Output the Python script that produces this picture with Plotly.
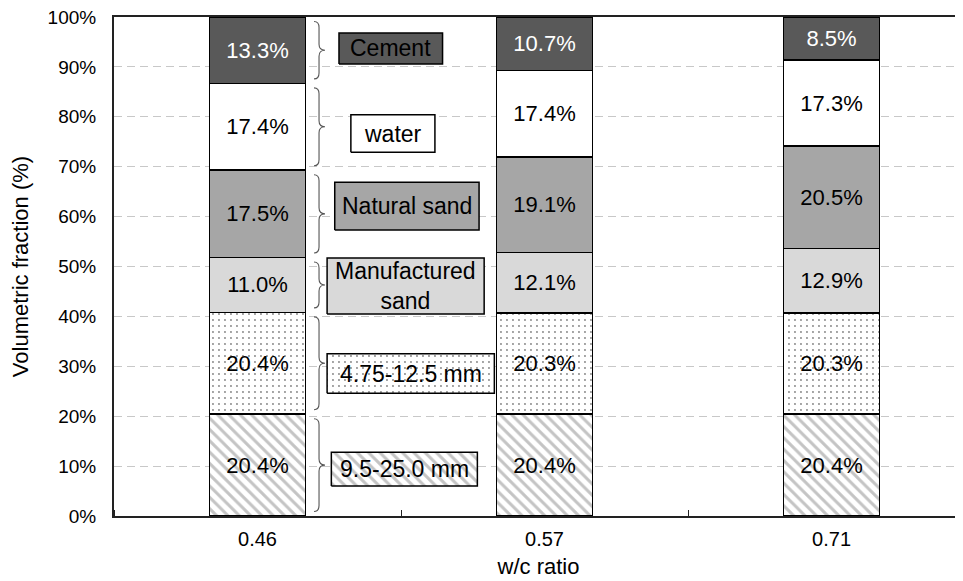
import plotly.graph_objects as go

# data (volumetric fraction, %)
wc_ratio = ["0.46", "0.57", "0.71"]
coarse_95_250 = [20.4, 20.4, 20.4]
coarse_475_125 = [20.4, 20.3, 20.3]
manufactured_sand = [11.0, 12.1, 12.9]
natural_sand = [17.5, 19.1, 20.5]
water = [17.4, 17.4, 17.3]
cement = [13.3, 10.7, 8.5]

series_names = ["9.5-25.0 mm", "4.75-12.5 mm", "Manufactured<br>sand", "Natural sand", "water", "Cement"]
series_values = [coarse_95_250, coarse_475_125, manufactured_sand, natural_sand, water, cement]

y_ticks = list(range(0, 101, 10))
y_ticktext = [f"{v}%" for v in y_ticks]

FONT = "Liberation Sans, Arial, sans-serif"
X_RANGE = [-0.5, 2.458]

# styles per series (bottom -> top)
styles = [
    dict(color="white", pattern=dict(shape="\\", fgcolor="#c4c4c4", bgcolor="white", size=8, solidity=0.38), text="black"),
    dict(color="white", pattern=dict(shape=".", fgcolor="#858585", bgcolor="white", size=6, solidity=0.08), text="black"),
    dict(color="#d9d9d9", pattern=None, text="black"),
    dict(color="#a6a6a6", pattern=None, text="black"),
    dict(color="white", pattern=None, text="black"),
    dict(color="#595959", pattern=None, text="white"),
]

# label boxes in plot-area fractions (x0, x1, y0, y1), bottom -> top
boxes = [
    (0.256, 0.428, 0.060, 0.128),
    (0.251, 0.448, 0.246, 0.325),
    (0.251, 0.436, 0.405, 0.517),
    (0.260, 0.430, 0.573, 0.669),
    (0.279, 0.378, 0.729, 0.804),
    (0.265, 0.387, 0.906, 0.968),
]


def fx(f):
    return X_RANGE[0] + f * (X_RANGE[1] - X_RANGE[0])


xpos = list(range(len(wc_ratio)))

fig = go.Figure()

for name, vals, st in zip(series_names, series_values, styles):
    marker = dict(color=st["color"], line=dict(color="black", width=1.5))
    if st["pattern"]:
        marker["pattern"] = st["pattern"]
    fig.add_trace(
        go.Bar(
            x=xpos,
            y=vals,
            name=name,
            width=0.335,
            marker=marker,
            texttemplate="%{y:.1f}%",
            textposition="inside",
            insidetextanchor="middle",
            textangle=0,
            constraintext="none",
            textfont=dict(family=FONT, size=22, color=st["text"]),
            showlegend=False,
            hoverinfo="skip",
        )
    )

# custom legend boxes
for name, st, (x0, x1, y0, y1) in zip(series_names, styles, boxes):
    kw = dict(fillcolor=st["color"])
    if st["pattern"]:
        kw = dict(fillpattern=st["pattern"])
    a, b = fx(x0), fx(x1)
    fig.add_trace(
        go.Scatter(
            x=[a, b, b, a, a],
            y=[y0 * 100, y0 * 100, y1 * 100, y1 * 100, y0 * 100],
            mode="lines",
            fill="toself",
            line=dict(color="black", width=1.5),
            showlegend=False,
            hoverinfo="skip",
            **kw,
        )
    )
    fig.add_annotation(
        x=(a + b) / 2,
        y=(y0 + y1) * 50,
        text=name,
        showarrow=False,
        font=dict(family=FONT, size=23, color="black"),
    )

# braces next to the first column
xl, xs, xt = fx(0.2356), fx(0.2415), fx(0.2485)
r = 1.2
bottom = 0.0
for vals in series_values:
    top = bottom + vals[0]
    b, t = bottom + 0.9, top - 0.9
    m = (b + t) / 2
    path = (
        f"M {xl},{t} Q {xs},{t} {xs},{t - r} L {xs},{m + r} "
        f"Q {xs},{m} {xt},{m} Q {xs},{m} {xs},{m - r} "
        f"L {xs},{b + r} Q {xs},{b} {xl},{b}"
    )
    fig.add_shape(type="path", path=path, xref="x", yref="y",
                  line=dict(color="#555555", width=1.1))
    bottom = top

# page body has an 8px margin, so the figure is 8px smaller on each side
fig.update_layout(
    template="none",
    barmode="stack",
    width=955,
    height=573,
    margin=dict(l=106, r=0, t=9, b=65, autoexpand=False),
    plot_bgcolor="white",
    paper_bgcolor="white",
    font=dict(family=FONT, size=19, color="black"),
    xaxis=dict(
        range=X_RANGE,
        automargin=False,
        tickvals=xpos,
        ticktext=wc_ratio,
        ticks="",
        showline=True,
        linecolor="#222222",
        linewidth=2,
        mirror=True,
        showgrid=False,
        zeroline=False,
        minor=dict(tickvals=[-0.5, 0.5, 1.5, 2.5], ticks="inside", ticklen=6,
                   tickcolor="#222222", showgrid=False),
        ticklabelstandoff=4,
        tickfont=dict(family=FONT, size=20),
        title=dict(text="w/c ratio", font=dict(family=FONT, size=22), standoff=10),
    ),
    yaxis=dict(
        range=[0, 100],
        automargin=False,
        tickmode="array",
        tickvals=y_ticks,
        ticktext=y_ticktext,
        ticklabeloverflow="allow",
        showline=True,
        linecolor="#222222",
        linewidth=2,
        showgrid=True,
        gridcolor="#c8c8c8",
        griddash="8px,5px",
        gridwidth=1,
        zeroline=False,
        ticks="",
        ticklabelstandoff=12,
        tickfont=dict(family=FONT, size=19),
        title=dict(text="Volumetric fraction (%)", font=dict(family=FONT, size=22), standoff=21),
    ),
)

fig.write_html("out.html")
